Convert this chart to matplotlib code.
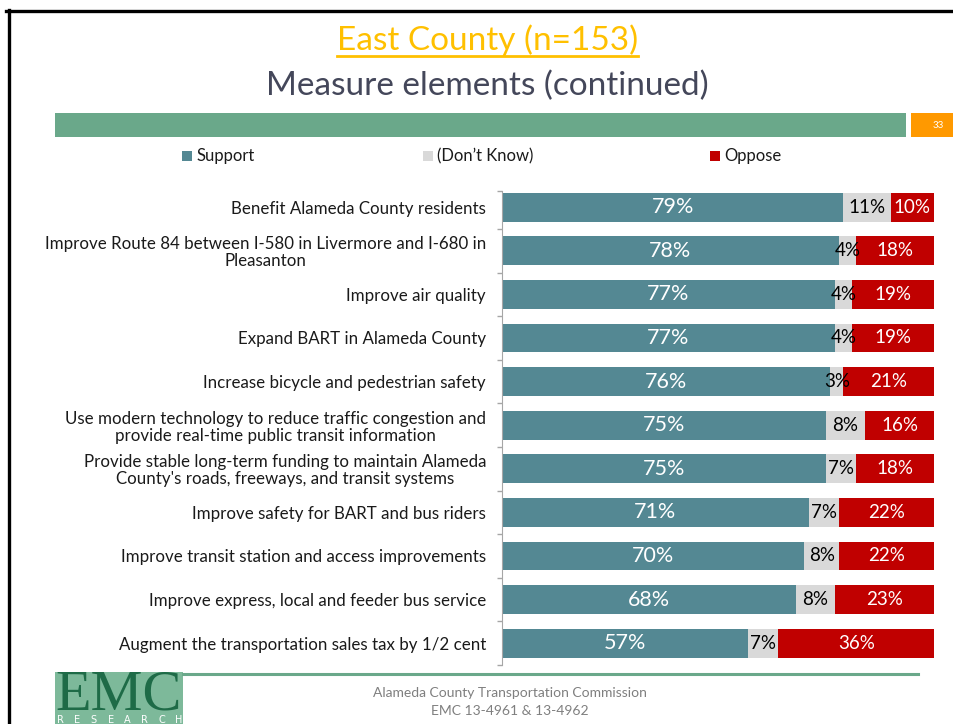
import numpy as np
import matplotlib
matplotlib.use("Agg")
import matplotlib.pyplot as plt
from matplotlib.patches import Rectangle
from matplotlib.lines import Line2D

plt.rcParams['font.family'] = ['Lato', 'DejaVu Sans']

# data
items = ["Benefit Alameda County residents",
         "Improve Route 84 between I-580 in Livermore and I-680 in\nPleasanton",
         "Improve air quality",
         "Expand BART in Alameda County",
         "Increase bicycle and pedestrian safety",
         "Use modern technology to reduce traffic congestion and\nprovide real-time public transit information",
         "Provide stable long-term funding to maintain Alameda\nCounty's roads, freeways, and transit systems",
         "Improve safety for BART and bus riders",
         "Improve transit station and access improvements",
         "Improve express, local and feeder bus service",
         "Augment the transportation sales tax by 1/2 cent"]
support = [79, 78, 77, 77, 76, 75, 75, 71, 70, 68, 57]
dontknow = [11, 4, 4, 4, 3, 8, 7, 7, 8, 8, 7]
oppose = [10, 18, 19, 19, 21, 16, 18, 22, 22, 23, 36]
series_names = ["Support", "(Don\u2019t Know)", "Oppose"]

c_sup = "#548893"
c_dk = "#D9D9D9"
c_opp = "#C00000"
green = "#6AA88A"

W, H = 954, 724
fig = plt.figure(figsize=(W/100, H/100), dpi=100)
fig.patch.set_facecolor("white")

def fx(x):
    return x / W

def fy(y):
    return 1 - y / H

ax = fig.add_axes([fx(502), fy(665), 432/W, (665-191.5)/H])
y = np.arange(len(items))
s = np.array(support)
d = np.array(dontknow)
o = np.array(oppose)
# oppose sits against the right edge (shares don't add to exactly 100 after rounding)
ax.barh(y, s, height=0.665, color=c_sup)
ax.barh(y, 100 - s - o, left=s, height=0.665, color=c_dk)
ax.barh(y, o, left=100 - o, height=0.665, color=c_opp)

for i in range(len(items)):
    ax.text(s[i]/2, i, f"{s[i]}%", color="white", ha="center", va="center", fontsize=15.5)
    ax.text((s[i] + 100 - o[i])/2, i, f"{d[i]}%", color="black", ha="center", va="center",
            fontsize=13.5)
    ax.text(100 - o[i]/2, i, f"{o[i]}%", color="white", ha="center", va="center", fontsize=13.5)

ax.set_xlim(0, 100)
ax.set_ylim(10.5, -0.36)
ax.set_yticks(y)
ax.set_yticklabels(items, fontsize=12.2, color="#1a1a1a")
for lbl in ax.get_yticklabels():
    lbl.set_multialignment("center")
    lbl.set_linespacing(1.08)
ax.tick_params(axis="y", which="major", length=0, pad=11.5)
ax.set_yticks(list(np.arange(0.5, 11, 1)) + [-0.36], minor=True)
ax.tick_params(axis="y", which="minor", length=3.6, color="#A6A6A6", width=1)
ax.set_xticks([])
for sp in ["top", "right", "bottom"]:
    ax.spines[sp].set_visible(False)
ax.spines["left"].set_color("#A6A6A6")

# titles
t1 = fig.text(fx(487.5), fy(50), "East County (n=153)", ha="center",
              va="baseline", fontsize=24, color="#FFC000")
fig.text(fx(487), fy(95), "Measure elements (continued)", ha="center", va="baseline",
         fontsize=24, color="#44475A")
fig.canvas.draw()
bb = t1.get_window_extent()
fig.add_artist(Line2D([bb.x0/W, bb.x1/W], [fy(56), fy(56)], transform=fig.transFigure,
                      color="#FFC000", lw=2))

# header band
fig.add_artist(Rectangle((fx(55), fy(137)), (906-55)/W, 24/H, transform=fig.transFigure,
                         color=green, lw=0))
fig.add_artist(Rectangle((fx(911), fy(137)), (954-911)/W, 24/H, transform=fig.transFigure,
                         color="#FF9900", lw=0))
fig.text(fx(938), fy(125), "33", color="white", fontsize=7, ha="center", va="center")

# legend
leg_x = [182.5, 423, 710]
for lx, name, col in zip(leg_x, series_names, [c_sup, c_dk, c_opp]):
    fig.add_artist(Rectangle((fx(lx), fy(161)), 10/W, 10/H, transform=fig.transFigure,
                             color=col, lw=0))
    fig.text(fx(lx+14), fy(156), name, fontsize=12, va="center", ha="left", color="#1a1a1a")

# frame
fig.add_artist(Line2D([fx(6), fx(954)], [fy(10.5), fy(10.5)], transform=fig.transFigure,
                      color="black", lw=2.4))
fig.add_artist(Line2D([fx(9.5), fx(9.5)], [fy(10), fy(724)], transform=fig.transFigure,
                      color="black", lw=2.4))

# footer
fig.add_artist(Line2D([fx(183), fx(918)], [fy(673.5), fy(673.5)], transform=fig.transFigure,
                      color=green, lw=2.2))
fig.add_artist(Rectangle((fx(55), 0), 128/W, (724-672)/H, transform=fig.transFigure,
                         color="#7DB99A", lw=0))
fig.text(fx(119), fy(710), "EMC", family="Liberation Serif", fontsize=42, color="#1E6B47",
         ha="center", va="baseline")
for k, ch in enumerate("RESEARCH"):
    fig.text(fx(60 + k*16.9), fy(723), ch, fontsize=7, color="white", ha="center",
             va="baseline", family="DejaVu Sans")
fig.text(fx(510), fy(693), "Alameda County Transportation Commission", fontsize=10,
         color="#7F7F7F", ha="center", va="center")
fig.text(fx(510), fy(711), "EMC 13-4961 & 13-4962", fontsize=10,
         color="#7F7F7F", ha="center", va="center")

fig.savefig("out.png", dpi=100)
